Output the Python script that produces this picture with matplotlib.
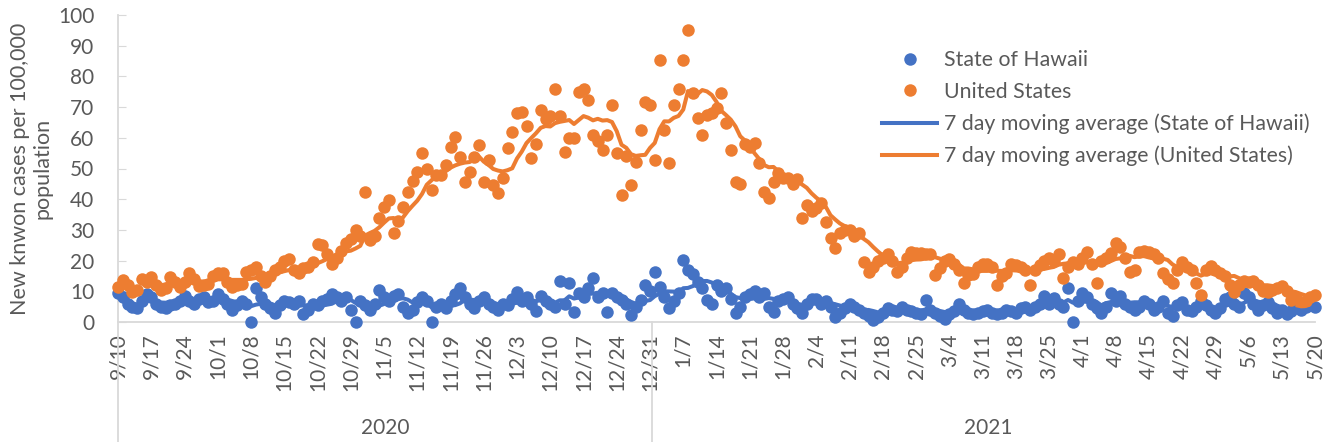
import matplotlib.pyplot as plt
import numpy as np
import pandas as pd

# daily values from 9/10/2020 to 5/20/2021, one row per week
hawaii = [
    9.5, 8, 6, 5, 4.5, 7, 9,
    8, 6, 5, 4.5, 5.5, 6, 7,
    8.5, 7, 6, 7.5, 8, 6.5, 7,
    9, 7.5, 6, 4, 5.5, 7, 6,
    0, 11, 8, 6, 4.5, 3, 5.5,
    7, 6.5, 6, 7, 2.5, 4, 6,
    5.5, 7, 7.5, 9, 8, 7, 8,
    4, 0, 7, 5.5, 4, 6, 10.5,
    8, 7, 8.5, 9, 5, 3, 4,
    6.5, 8, 7, 0, 5, 6, 4.5,
    7, 9, 11, 8, 6, 4.5, 7,
    8, 6, 5, 4, 6, 5.5, 7.5,
    9.8, 7, 8, 6, 3.5, 8.5, 7,
    6, 5, 13.4, 6, 12.7, 3.3, 9.5,
    8, 11, 14.3, 8, 9.5, 3.3, 9.5,
    8, 7.3, 6, 2.4, 5, 7.3, 12,
    10, 16.3, 11.5, 8, 4.5, 7, 9.5,
    20.2, 17, 15.6, 13, 11, 7.3, 6,
    12, 10, 11, 7.5, 3, 5, 8,
    9, 10, 8, 9.5, 5, 3.3, 7,
    7.5, 8, 6, 4.5, 3, 6, 7.5,
    7.5, 6, 7, 5, 1.5, 3, 4.5,
    6, 5, 4, 3, 2, 0.5, 1.5,
    3, 4.5, 4, 3.5, 5, 4, 3.5,
    3, 2.5, 7.3, 4, 3, 2, 1,
    2.5, 3.5, 6, 4, 3, 2.5, 3,
    3.5, 4, 3, 2.5, 3, 4, 3.5,
    3, 4.5, 5, 4, 5, 6, 8.5,
    6, 7.7, 6, 5, 11, 0, 7,
    9.5, 8, 6, 4.5, 3, 5, 9.5,
    7, 8.5, 6, 5, 4, 5, 7,
    6, 4, 5, 7, 3, 2, 5.5,
    6.5, 4, 3.5, 5, 7, 5.5, 4,
    3, 4.5, 7.5, 8, 6, 5, 9.5,
    8, 6, 4, 5.5, 6.5, 4.5, 3,
    4, 2.5, 3.5, 5, 4, 5, 5.5,
    5,
]

us = [
    11.4, 13.7, 12, 9.8, 10.5, 14, 13,
    14.5, 12, 10.4, 11, 14.6, 13, 11.5,
    13, 16, 14, 11.8, 12, 12.5, 15,
    16, 16, 13, 11.5, 12, 12.5, 16.4,
    17, 18, 15, 13, 14.9, 17, 18,
    20, 20.5, 17, 15.8, 17.5, 18, 19.7,
    25.5, 25, 22, 19, 21, 23, 25.6,
    27, 30, 28, 42.4, 26.7, 28, 33.8,
    37.5, 39.7, 29, 33, 37.5, 42.4, 46,
    49, 55, 50, 43, 47.8, 48, 51,
    57, 60.3, 53.8, 45.6, 49, 53.8, 57.6,
    45.6, 52.8, 44.5, 42, 47, 56.6, 62,
    68, 68.4, 64, 53.4, 58, 69, 66,
    67, 76, 67, 55.5, 60, 60, 75,
    76, 72.3, 61, 59, 56, 61, 70.7,
    55, 41.4, 54, 44.6, 52, 62.5, 71.7,
    70.7, 52.8, 85.3, 62.5, 51.8, 70.7, 76,
    85.3, 95, 74.5, 66.4, 61, 67.5, 68,
    69.6, 74.5, 64.8, 56, 45.6, 45, 58,
    57, 58.3, 51.8, 42.4, 40.4, 45.6, 48.5,
    47, 47, 45, 46.7, 33.8, 38, 36,
    37, 38.7, 32.6, 27.3, 24, 29, 30,
    30, 28, 29, 19.5, 16.3, 18, 20,
    21, 22, 20, 16.3, 18, 20.8, 22.8,
    22.4, 22.4, 22, 22, 15.3, 17.6, 20,
    20.5, 19, 17, 12.7, 15.3, 15.5, 18,
    19, 19, 18, 12, 15, 16, 19,
    18.5, 18, 17, 12, 17, 18.5, 20,
    21, 20, 22, 14.2, 18, 19.5, 19,
    21, 22.8, 19, 12.7, 20, 21, 22.4,
    25.7, 24.4, 21, 16.3, 17, 22.8, 23,
    22.8, 22, 20.8, 16, 14, 12.7, 17,
    19.5, 18, 17, 12.7, 8.8, 17, 18.2,
    17, 16, 15, 12, 9.8, 12, 13.5,
    13, 13.5, 12, 10, 9.8, 10.4, 11,
    11.7, 10, 7.3, 8, 5.7, 7, 8,
    8.7,
]

tick_labels = ['9/10', '9/17', '9/24', '10/1', '10/8', '10/15', '10/22', '10/29',
               '11/5', '11/12', '11/19', '11/26', '12/3', '12/10', '12/17', '12/24',
               '12/31', '1/7', '1/14', '1/21', '1/28', '2/4', '2/11', '2/18', '2/25',
               '3/4', '3/11', '3/18', '3/25', '4/1', '4/8', '4/15', '4/22', '4/29',
               '5/6', '5/13', '5/20']
years = ['2020', '2021']
year_start = [0, 113]   # index of first day of each year group

blue = '#4472C4'
orange = '#ED7D31'
grey = '#595959'
light = '#D9D9D9'

plt.rcParams['font.family'] = ['Lato', 'DejaVu Sans']

days = np.arange(len(us))
hi_ma = pd.Series(hawaii).rolling(7).mean()
us_ma = pd.Series(us).rolling(7).mean()

fig = plt.figure(figsize=(13.23, 4.42), dpi=100)
ax = fig.add_axes([118 / 1323, 1 - 322 / 442, (1315 - 118) / 1323, 307 / 442])

ax.plot(days, hawaii, 'o', color=blue, ms=9, mew=0, clip_on=False, label='State of Hawaii', zorder=3)
ax.plot(days, us, 'o', color=orange, ms=9, mew=0, clip_on=False, label='United States', zorder=3)
ax.plot(days, hi_ma, color=blue, lw=2.9, label='7 day moving average (State of Hawaii)', zorder=4)
ax.plot(days, us_ma, color=orange, lw=2.9, label='7 day moving average (United States)', zorder=4)

ax.set_xlim(0, len(us) - 1)
ax.set_ylim(0, 100)
ax.set_yticks(np.arange(0, 101, 10))
ax.set_xticks(np.arange(0, len(us), 7))
ax.set_xticklabels(tick_labels, rotation=90)
ax.tick_params(axis='x', length=0, pad=8, labelsize=15, labelcolor=grey)
ax.tick_params(axis='y', direction='in', length=6, color=light, pad=17, labelsize=15, labelcolor=grey)

for s in ['top', 'right']:
    ax.spines[s].set_visible(False)
for s in ['left', 'bottom']:
    ax.spines[s].set_color(light)
    ax.spines[s].set_linewidth(1.3)

ax.set_ylabel('New knwon cases per 100,000\npopulation', fontsize=15.5, color=grey,
              labelpad=4, linespacing=1.15)

# year group labels below the dates
tr = ax.get_xaxis_transform()
bounds = year_start + [len(us) + 1.5]
for i, yr in enumerate(years):
    x0 = bounds[i] - (0.5 if i > 0 else 0)
    ax.plot([x0, x0], [0, -0.39], color=light, lw=1.3, transform=tr, clip_on=False)
    ax.text((x0 + bounds[i + 1] - 0.5) / 2, -0.345, yr, transform=tr, ha='center', va='center',
            fontsize=15, color=grey)

fig.legend(loc='upper left', bbox_to_anchor=(882 / 1323, 1 - 50 / 442), frameon=False,
           fontsize=15.3, labelcolor=grey, handlelength=2.6, handletextpad=0.3,
           labelspacing=0.55, borderaxespad=0, borderpad=0)

fig.savefig('out.png', dpi=100)
